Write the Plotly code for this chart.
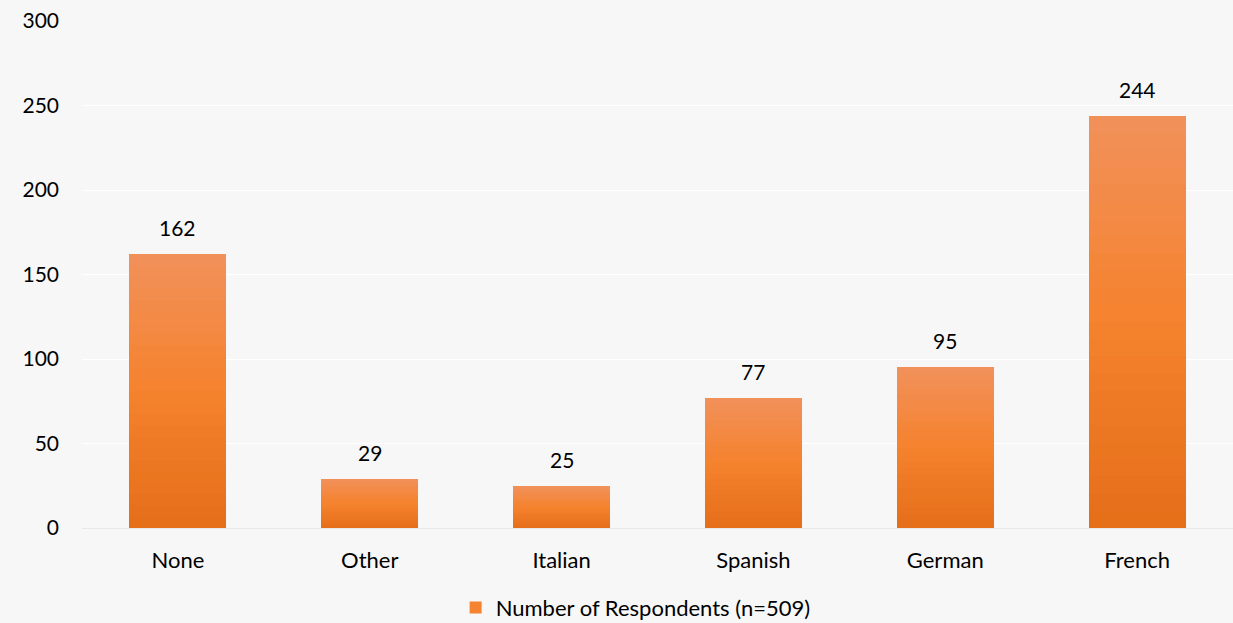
import plotly.graph_objects as go

categories = ["None", "Other", "Italian", "Spanish", "German", "French"]
values = [162, 29, 25, 77, 95, 244]
series_name = "Number of Respondents (n=509)"
y_ticks = [0, 50, 100, 150, 200, 250, 300]

FONT = "Lato"
N_SEG = 24
top_rgb = (241, 145, 90)
mid_rgb = (245, 130, 45)
bot_rgb = (229, 110, 25)

def seg_color(t):
    # t = 0 bottom, 1 top
    if t < 0.5:
        a, b, u = bot_rgb, mid_rgb, t / 0.5
    else:
        a, b, u = mid_rgb, top_rgb, (t - 0.5) / 0.5
    c = [round(a[i] + (b[i] - a[i]) * u) for i in range(3)]
    return f"rgb({c[0]},{c[1]},{c[2]})"

fig = go.Figure()
for k in range(N_SEG):
    t = (k + 0.5) / N_SEG
    fig.add_trace(go.Bar(
        x=categories,
        y=[v / N_SEG for v in values],
        marker=dict(color=seg_color(t), line=dict(width=0)),
        name=series_name,
        showlegend=(k == N_SEG // 2),
        legendgroup="g",
        hoverinfo="skip",
    ))

for c, v in zip(categories, values):
    fig.add_annotation(x=c, y=v, text=str(v), showarrow=False,
                       yanchor="bottom", yshift=12,
                       font=dict(family=FONT, size=21, color="#000000"))

fig.update_layout(
    width=1233, height=623,
    barmode="stack", bargap=0.495,
    paper_bgcolor="#f7f7f7", plot_bgcolor="#f7f7f7",
    margin=dict(l=82, r=0, t=21, b=95, autoexpand=False),
    font=dict(family=FONT, size=21, color="#000000"),
    showlegend=True,
    legend=dict(orientation="h", x=0.481, xanchor="center",
                yref="paper", y=-0.157, yanchor="middle",
                font=dict(family=FONT, size=22, color="#000000"),
                bgcolor="rgba(0,0,0,0)", itemwidth=30, traceorder="normal"),
    xaxis=dict(showgrid=False, showline=False, ticks="", ticklabelstandoff=17,
               tickfont=dict(size=22)),
    yaxis=dict(range=[0, 300], tickvals=y_ticks, showgrid=True, gridcolor="#ffffff",
               gridwidth=1, zeroline=True, zerolinecolor="#e8e8e8", zerolinewidth=1,
               showline=False, ticks="", ticklabelstandoff=22, tickfont=dict(size=21)),
)

fig.write_html("out.html", config={"displayModeBar": False})
with open("out.html", "r", encoding="utf-8") as f:
    html = f.read()
html = html.replace("<head>", "<head><style>html,body{margin:0;padding:0;background:#f7f7f7;}</style>", 1)
with open("out.html", "w", encoding="utf-8") as f:
    f.write(html)
